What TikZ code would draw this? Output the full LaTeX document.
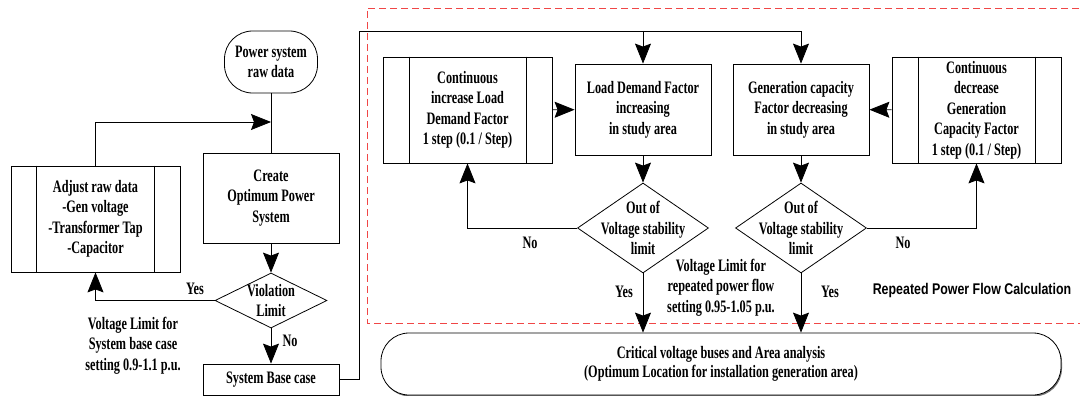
\documentclass[tikz,border=0pt]{standalone}
\usepackage{fontspec}
\setmainfont{Liberation Serif}[FakeStretch=0.70]
\newfontfamily\arl{Liberation Sans}[FakeStretch=0.80]
\usetikzlibrary{shapes.geometric,arrows.meta,shadows}
\begin{document}
\begin{tikzpicture}[x=1pt,y=-1pt,
  every node/.style={font=\fontsize{17.5}{20.5}\selectfont\bfseries, align=center},
  box/.style={draw, line width=0.8pt, inner sep=0pt},
  dia/.style={draw, diamond, line width=0.8pt, inner sep=0pt},
  arr/.style={-{Stealth[length=20pt,width=16pt,inset=3pt]}, line width=0.8pt},
  ln/.style={line width=0.8pt},
  reddash/.style={draw={rgb,255:red,240;green,70;blue,70}, line width=0.8pt, dash pattern=on 7pt off 4pt},
  lbl/.style={inner sep=0pt}]
\useasboundingbox (0,0) rectangle (1080,396);
% dashed region
\draw[reddash] (1090,8) -- (367,8) -- (367,323) -- (1090,323);
% left part
\node[box, rounded corners=28pt, minimum width=93pt, minimum height=62pt] (raw) at (271,62) {Power system\\raw data};
\node[box, minimum width=136pt, minimum height=90pt] (create) at (271,198) {Create\\Optimum Power\\System};
\node[box, minimum width=169pt, minimum height=106pt] (adj) at (95.5,219) {Adjust raw data\\-Gen voltage\\-Transformer Tap\\-Capacitor};
\draw[ln] ([xshift=26pt]adj.north west) -- ([xshift=26pt]adj.south west);
\draw[ln] ([xshift=-26pt]adj.north east) -- ([xshift=-26pt]adj.south east);
\node[dia, minimum width=112pt, minimum height=55pt, label={center:Violation\\Limit}] (viol) at (271,300.5) {};
\node[box, minimum width=136pt, minimum height=31pt] (base) at (271,379.5) {System Base case};
% right part
\node[box, minimum width=169pt, minimum height=106pt] (inc) at (467.5,110) {Continuous\\increase Load\\Demand Factor\\1 step (0.1 / Step)};
\draw[ln] ([xshift=27pt]inc.north west) -- ([xshift=27pt]inc.south west);
\draw[ln] ([xshift=-26pt]inc.north east) -- ([xshift=-26pt]inc.south east);
\node[box, minimum width=136pt, minimum height=91pt] (load) at (643,109.5) {Load Demand Factor\\increasing\\in study area};
\node[box, minimum width=136pt, minimum height=91pt] (gen) at (801,109.5) {Generation capacity\\Factor decreasing\\in study area};
\node[box, minimum width=169pt, minimum height=106pt] (dec) at (976.5,110) {Continuous\\decrease\\Generation\\Capacity Factor\\1 step (0.1 / Step)};
\draw[ln] ([xshift=27pt]dec.north west) -- ([xshift=27pt]dec.south west);
\draw[ln] ([xshift=-26pt]dec.north east) -- ([xshift=-26pt]dec.south east);
\node[dia, minimum width=131pt, minimum height=90pt, label={center:Out of\\Voltage stability\\limit}] (d1) at (643,228) {};
\node[dia, minimum width=131pt, minimum height=90pt, label={center:Out of\\Voltage stability\\limit}] (d2) at (801,228) {};
\node[box, rounded corners=28pt, minimum width=680pt, minimum height=62pt, fill=white,
  drop shadow={shadow xshift=1pt, shadow yshift=-1.5pt, fill=black!55, opacity=1},
  font=\fontsize{17.5}{19}\selectfont\bfseries] (oval) at (721,364) {Critical voltage buses and Area analysis\\(Optimum Location for installation generation area)};
% labels
\node[lbl] (yes0) at (195,289) {Yes};
\node[lbl] (no0) at (290,341) {No};
\node[lbl] (note0) at (133,345.5) {Voltage Limit for\\System base case\\setting 0.9-1.1 p.u.};
\node[lbl] (no1) at (530,243) {No};
\node[lbl] (yes1) at (624,292) {Yes};
\node[lbl] (no2) at (903,243) {No};
\node[lbl] (yes2) at (830,292) {Yes};
\node[lbl] (note1) at (721,287.5) {Voltage Limit for\\repeated power flow\\setting 0.95-1.05 p.u.};
\node[lbl, font=\arl\fontsize{15.5}{17}\selectfont\bfseries] (rpf) at (972,290) {Repeated Power Flow Calculation};
% connectors
\coordinate (fbt) at (271,122);
\coordinate (c1) at (359,31);
\draw[ln] (raw) -- (create);
\draw[arr] (adj.north) |- (fbt);
\draw[arr] (create) -- (viol);
\draw[arr] (viol.west) -| (adj.south);
\draw[arr] (viol) -- (base);
\draw[arr] (base.east) -| (c1) -| (gen.north);
\draw[arr] (load.north |- c1) -- (load.north);
\draw[arr] (inc) -- (load);
\draw[arr] (load) -- (d1);
\draw[arr] (d1.west) -| (inc.south);
\draw[arr] (d1.south) -- (d1.south |- oval.north);
\draw[arr] (dec) -- (gen);
\draw[arr] (gen) -- (d2);
\draw[arr] (d2.east) -| (dec.south);
\draw[arr] (d2.south) -- (d2.south |- oval.north);
\end{tikzpicture}
\end{document}
